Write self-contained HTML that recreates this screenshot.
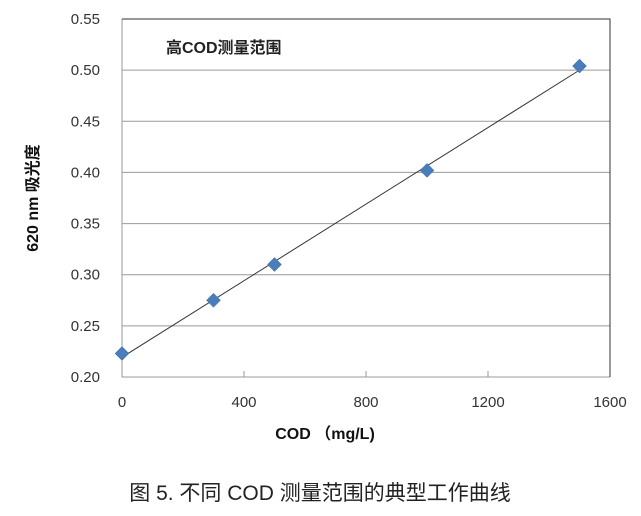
<!DOCTYPE html>
<html><head><meta charset="utf-8"><style>
body{margin:0;background:#fff;}
svg text{font-family:"Liberation Sans","Noto Sans CJK SC",sans-serif;}
</style></head><body>
<svg width="641" height="511">
<g id="grid"></g><g id="marks"></g>
<text x="166" y="53" font-size="16" font-weight="bold" fill="#222">高COD测量范围</text>
<text transform="translate(38,198) rotate(-90)" text-anchor="middle" font-size="16" font-weight="bold" fill="#111">620 nm 吸光度</text>
<text x="325" y="439" text-anchor="middle" font-size="16" font-weight="bold" fill="#111">COD （mg/L)</text>
<text x="320" y="500" text-anchor="middle" font-size="21" fill="#222">图 5. 不同 COD 测量范围的典型工作曲线</text>
</svg>
<script>
const xTicks=[0,400,800,1200,1600];
const yTicks=[0.20,0.25,0.30,0.35,0.40,0.45,0.50,0.55];
const codValues=[0,300,500,1000,1500];
const absorbance=[0.223,0.275,0.310,0.402,0.504];
const L=122,R=610,T=19,B=377;
const sx=v=>L+(v-0)/(1600-0)*(R-L);
const sy=v=>B-(v-0.20)/(0.55-0.20)*(B-T);
const NS='http://www.w3.org/2000/svg';
const grid=document.getElementById('grid'),marks=document.getElementById('marks');
function mk(tag,attrs,parent){const e=document.createElementNS(NS,tag);for(const k in attrs)e.setAttribute(k,attrs[k]);parent.appendChild(e);return e;}
yTicks.forEach((t,i)=>{
  const y=sy(t);
  if(i>0&&i<yTicks.length-1){const g=mk('line',{x1:L,x2:R,y1:y,y2:y,stroke:'#9a9a9a','stroke-width':1},grid);
  
  }
  const tx=mk('text',{x:100,y:y+5,'text-anchor':'end','font-size':15,fill:'#333'},grid);tx.textContent=t.toFixed(2);
  
  
});
xTicks.forEach(t=>{
  const x=sx(t);
  const tk=mk('line',{x1:x,x2:x,y1:B-6,y2:B,stroke:'#9a9a9a'},grid);
  
  
  const tx=mk('text',{x:x,y:407,'text-anchor':'middle','font-size':15,fill:'#333'},grid);tx.textContent=t;
  
  
});
const ax=mk('path',{d:`M${L},${T} V${B} H${R}`,fill:'none',stroke:'#9a9a9a'},grid);


const fr=mk('path',{d:`M${L},${T} H${R} V${B}`,fill:'none',stroke:'#333'},grid);


const n=codValues.length,mx=codValues.reduce((a,b)=>a+b)/n,my=absorbance.reduce((a,b)=>a+b)/n;
let sxx=0,sxy=0;codValues.forEach((x,i)=>{sxx+=(x-mx)**2;sxy+=(x-mx)*(absorbance[i]-my);});
const slope=sxy/sxx,icpt=my-slope*mx;
const x0=codValues[0],x1=codValues[n-1];
const tl=mk('line',{x1:sx(x0),y1:sy(icpt+slope*x0),x2:sx(x1),y2:sy(icpt+slope*x1),stroke:'#333','stroke-width':1},marks);


codValues.forEach((v,i)=>{
  const x=sx(v),y=sy(absorbance[i]),s=7;
  const p=mk('polygon',{points:`${x},${y-s} ${x+s},${y} ${x},${y+s} ${x-s},${y}`,fill:'#4a7ebb',stroke:'#3a6aa5','stroke-width':0.5},marks);
  
  
});
</script>
</body></html>
